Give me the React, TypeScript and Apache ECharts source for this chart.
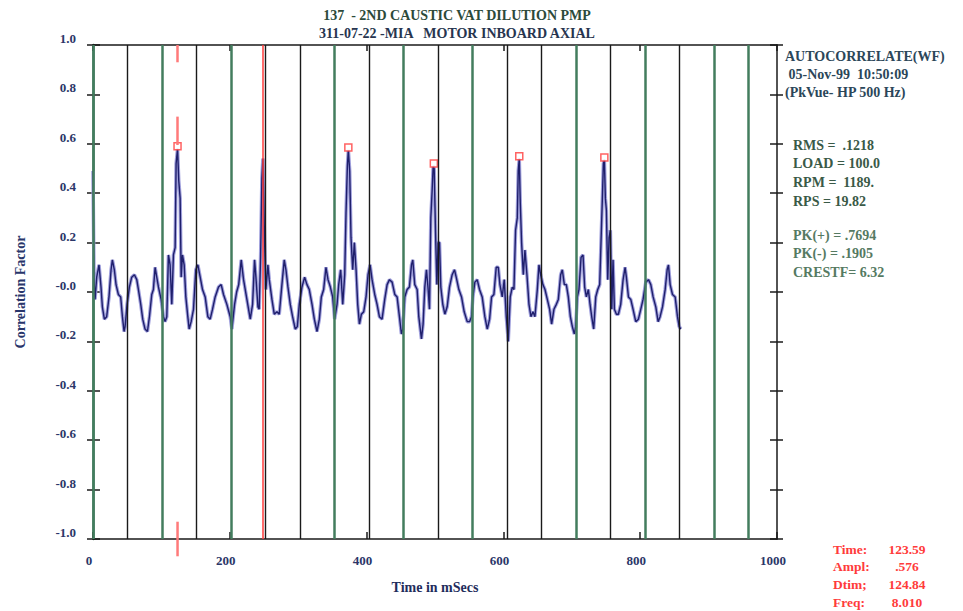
import { useEffect, useRef } from 'react';
import * as echarts from 'echarts';

// --- chart data ---
const titleLines = ['137  - 2ND CAUSTIC VAT DILUTION PMP', '311-07-22 -MIA   MOTOR INBOARD AXIAL'];
const headerLines = ['AUTOCORRELATE(WF)', ' 05-Nov-99  10:50:09', '(PkVue- HP 500 Hz)'];
const statLines = ['RMS =  .1218', 'LOAD = 100.0', 'RPM =  1189.', 'RPS = 19.82'];
const peakLines = ['PK(+) = .7694', 'PK(-) = .1905', 'CRESTF= 6.32'];
const cursorLabels = ['Time:', 'Ampl:', 'Dtim;', 'Freq:'];
const cursorValues = ['123.59', '.576', '124.84', '8.010'];

const cursorTime = 123.59;
const deltaCursorTime = 248.43;

// running speed markers (ms) and their colours: g = green, k = black
const speedMarkMs = [0, 50.5, 100.9, 151.4, 201.8, 252.3, 302.7, 353.2, 403.6, 454.1,
  504.5, 555.0, 605.4, 655.9, 706.3, 756.8, 807.2, 857.7, 908.1, 958.6];
const speedMarkKind = ['g', 'k', 'g', 'k', 'g', 'k', 'k', 'g', 'k', 'g',
  'k', 'g', 'k', 'k', 'g', 'k', 'g', 'k', 'g', 'g'];

// harmonic peak markers
const peakMs = [123.59, 373.3, 498.3, 623.2, 747.6];
const peakAmp = [0.59, 0.585, 0.52, 0.55, 0.545];

// autocorrelation waveform [lag ms, factor]
const waveform: [number, number][] = [
  [0, 0.49], [1.5, 0.05], [3, -0.03], [5.4, 0.06], [8.8, 0.11], [11.7, 0.02], [13.7, -0.06],
  [16.6, -0.11], [20, -0.1], [23.4, -0.02], [26.4, 0.09], [28.3, 0.13], [31.2, 0.09], [33.7, 0.03],
  [37.1, -0.01], [40.5, -0.02], [43, -0.1], [45.4, -0.16], [46.9, -0.14], [49.8, -0.05], [53.2, 0.02],
  [56.6, 0.06], [60.5, 0.07], [64, 0.05], [66.4, 0.01], [69.8, -0.05], [72.7, -0.11], [76.1, -0.15],
  [79.6, -0.16], [82.5, -0.1], [85.9, -0.01], [88.3, 0.01], [90.8, 0.1], [93.2, 0.06], [95.7, 0.02],
  [99.6, -0.03], [103, -0.1], [105.4, -0.12], [107.9, -0.1], [110.3, 0.15], [112.7, 0.11], [115.2, -0.05],
  [117.6, 0.15], [120.1, 0.18], [121.5, 0.52], [123.6, 0.58], [125.4, 0.45], [127.4, 0.38], [128.9, 0.06],
  [130.8, 0.15], [133.3, 0.11], [135.7, -0.02], [138.6, -0.1], [140.6, -0.15], [143.5, -0.12], [146.9, -0.07],
  [150.3, 0.09], [153.3, 0.11], [156.7, 0.06], [160.1, 0.01], [164, -0.02], [167.9, -0.1], [171.3, -0.11],
  [174.7, -0.07], [178.6, -0.02], [183.5, 0.02], [187.4, 0.03], [190.8, -0.01], [195.7, -0.05], [200.6, -0.1],
  [203, -0.15], [207, -0.05], [210, 0], [213, 0.03], [216.7, 0.13], [220.1, 0.05], [225, -0.03],
  [229.9, -0.11], [233.3, -0.05], [236.2, 0.13], [238.2, 0.06], [241.1, -0.06], [243, -0.07], [245, 0.14],
  [246.9, 0.46], [248.4, 0.54], [250.8, 0.21], [252.8, 0.01], [255.7, 0.11], [257.7, 0.05], [261.6, -0.03],
  [265, -0.09], [268.9, -0.08], [272.3, -0.09], [276.2, 0.03], [279.6, 0.13], [282.1, 0.09], [285, 0.02],
  [288.4, -0.05], [291.8, -0.1], [295.7, -0.15], [298.7, -0.14], [301.6, -0.05], [305.5, 0.02], [309.4, 0.06],
  [312.8, 0.03], [316.2, 0.01], [320.2, -0.05], [323.6, -0.11], [327.5, -0.16], [330.9, -0.11], [333.8, -0.02],
  [337.2, 0.01], [340.6, 0.1], [343.6, 0.05], [347, 0.02], [350.4, -0.02], [353.3, -0.11], [356.8, -0.05],
  [359.2, 0.03], [362.1, 0.09], [365.1, -0.05], [368, 0.07], [369.9, 0.32], [371.9, 0.51], [373.3, 0.575],
  [375.3, 0.49], [377.2, 0.22], [379.7, 0.09], [382.1, 0.2], [384.6, 0.09], [387, -0.05], [389.5, -0.13],
  [392.4, -0.09], [395.8, -0.08], [399.2, -0.02], [402.1, 0.07], [405.1, 0.11], [408, 0.05], [411.9, -0.01],
  [415.3, -0.05], [418.7, -0.1], [422.6, -0.11], [426.5, -0.03], [430, 0.03], [433.4, 0.05], [437.3, 0.04],
  [441.2, -0.01], [444.6, -0.02], [448, -0.1], [450.9, -0.17], [452.9, -0.15], [455.8, -0.02], [459.2, 0.01],
  [462.6, 0.02], [465.6, 0.11], [467.5, 0.13], [470.4, 0.03], [473.9, 0.01], [476.3, -0.1], [480.2, -0.19],
  [482.6, -0.13], [485.1, 0.02], [487.5, 0.09], [490, 0.01], [491.9, -0.07], [493.9, 0.3], [495.8, 0.41],
  [497.3, 0.51], [498.8, 0.5], [500.7, 0.25], [502.7, 0.03], [504.6, 0.2], [506.6, 0.2], [508.5, 0.02],
  [511.4, -0.05], [514.4, -0.09], [517.8, -0.06], [521.2, 0.02], [525.1, 0.07], [528.5, 0.09], [531, 0.06],
  [534.9, 0.01], [538.8, -0.02], [542.7, -0.08], [547.1, -0.12], [550.5, -0.12], [553.4, -0.1], [555.4, -0.02],
  [558.3, 0.04], [561.7, 0.05], [565.1, 0.01], [569, -0.02], [572.9, -0.1], [576.4, -0.15], [579.8, -0.11],
  [582.7, -0.02], [586.1, -0.01], [589.5, 0.1], [592.5, 0.1], [594.9, 0.03], [598.3, -0.02], [601.2, 0.05],
  [604.2, -0.1], [607.1, -0.2], [610, -0.02], [613, 0.02], [615.4, 0.01], [617.8, 0.25], [620.3, 0.3],
  [621.7, 0.49], [623.2, 0.54], [624.7, 0.36], [626.6, 0.2], [629.1, 0.07], [631.5, 0.17], [634.4, 0.07],
  [637.4, -0.05], [640.3, -0.1], [643.2, -0.08], [646.1, -0.1], [649.6, 0.01], [652, 0.11], [654.4, 0.07],
  [657.8, 0.03], [660.8, 0.01], [664.2, -0.03], [667.6, -0.07], [670.5, -0.13], [673.9, -0.07], [677.4, -0.05],
  [680.3, -0.03], [683.7, 0.07], [686.1, 0.09], [689.1, 0.03], [692, 0.03], [694.9, -0.02], [697.9, -0.1],
  [700.8, -0.14], [703.7, -0.17], [705.7, -0.14], [708.1, -0.02], [710.5, 0.01], [713.5, 0.14], [716.4, 0.15],
  [718.8, 0.02], [721.3, -0.02], [724.2, 0.01], [726.7, -0.05], [729.1, -0.1], [732, -0.15], [735, -0.02],
  [737.9, 0.01], [740.8, 0.03], [742.8, 0.21], [744.7, 0.38], [746.2, 0.52], [747.6, 0.535], [749.1, 0.38],
  [750.6, 0.33], [752.5, 0.05], [754.5, 0.22], [756.4, 0.25], [758.4, -0.07], [760.3, 0.13], [762.3, -0.07],
  [765.2, -0.09], [768.1, -0.09], [771.5, -0.05], [775, 0.05], [777.9, 0.1], [779.8, 0.06], [782.8, -0.02],
  [786.2, -0.03], [789.6, -0.07], [793.5, -0.12], [797.4, -0.11], [800.8, -0.07], [804.2, -0.03], [808.2, 0.04],
  [812.1, 0.05], [815.5, 0.03], [818.9, -0.02], [822.8, -0.06], [826.2, -0.12], [829.1, -0.1], [832.6, -0.06],
  [836.5, 0.01], [839.4, 0.09], [841.3, 0.11], [843.8, 0.03], [847.2, -0.01], [851.1, -0.02], [854.5, -0.1],
  [857, -0.14], [859.4, -0.15],
];

const FONT = '"Liberation Serif", "DejaVu Serif", serif';
const GREEN = '#437d5e';
const NAVY = '#2b3668';
const RED = '#ff3b3b';

function textEl(text: string, x: number, y: number, fill: string, size: number, align = 'left') {
  return {
    type: 'text',
    x,
    y,
    silent: true,
    style: {
      text,
      fill,
      fontFamily: FONT,
      fontWeight: 'bold',
      fontSize: size,
      textAlign: align,
      textVerticalAlign: 'middle',
    },
  };
}

function App() {
  const chartRef = useRef<HTMLDivElement>(null);

  useEffect(() => {
    document.body.style.margin = '0';
    if (!chartRef.current) return;
    const chart = echarts.init(chartRef.current, null, { renderer: 'svg' });

    const axisText = { color: NAVY, fontFamily: FONT, fontWeight: 'bold' as const, fontSize: 13 };

    // vertical running-speed lines + cursors
    const markData: any[] = speedMarkMs.map((ms, i) => ({
      xAxis: ms,
      lineStyle: speedMarkKind[i] === 'g'
        ? { color: GREEN, width: 2.5, type: 'solid' }
        : { color: '#1a1a1a', width: 1.4, type: 'solid' },
    }));
    markData.push({ xAxis: deltaCursorTime, lineStyle: { color: RED, width: 1.5, type: 'solid' } });
    const dashSegs = [[1.0, 0.93], [0.71, 0.595]];
    dashSegs.forEach(([a, b]) => {
      markData.push([
        { coord: [cursorTime, a], lineStyle: { color: '#ff7a7a', width: 2.5, type: 'solid' } },
        { coord: [cursorTime, b] },
      ]);
    });

    const graphics: any[] = [];
    graphics.push(textEl(titleLines[0], 457, 15, '#2c4a3a', 14, 'center'));
    graphics.push(textEl(titleLines[1], 457, 33, '#27354f', 14, 'center'));
    headerLines.forEach((t, i) => graphics.push(textEl(t, 785, 56 + i * 18, '#2b4659', 14)));
    statLines.forEach((t, i) => graphics.push(textEl(t, 793, 145 + i * 18.7, '#3a5a47', 14)));
    peakLines.forEach((t, i) => graphics.push(textEl(t, 793, 235 + i * 18.5, '#557a62', 14)));
    cursorLabels.forEach((t, i) => graphics.push(textEl(t, 833, 549 + i * 17.8, RED, 13.5)));
    cursorValues.forEach((t, i) => graphics.push(textEl(t, 907, 549 + i * 17.8, RED, 13.5, 'center')));

    const option: any = {
      animation: false,
      backgroundColor: '#ffffff',
      grid: { left: 93, right: 186, top: 45, bottom: 72 },
      graphic: graphics,
      xAxis: [
        {
          type: 'value',
          min: 0,
          max: 1000,
          interval: 200,
          position: 'bottom',
          axisLine: { onZero: false, lineStyle: { color: '#1a1a1a', width: 1.5 } },
          axisTick: { inside: true, length: 7, lineStyle: { color: '#1a1a1a', width: 1.5 } },
          axisLabel: { ...axisText, margin: 15, padding: [0, 8, 0, 0], formatter: (v: number) => String(v) },
          splitLine: { show: false },
          name: 'Time in mSecs',
          nameLocation: 'middle',
          nameGap: 41,
          nameTextStyle: { ...axisText, fontSize: 14, color: '#1f2d5c' },
        },
        {
          type: 'value',
          min: 0,
          max: 1000,
          interval: 200,
          position: 'top',
          axisLine: { onZero: false, lineStyle: { color: '#1a1a1a', width: 1.5 } },
          axisTick: { inside: true, length: 6, lineStyle: { color: '#1a1a1a', width: 1.5 } },
          axisLabel: { show: false },
          splitLine: { show: false },
        },
      ],
      yAxis: [
        {
          type: 'value',
          min: -1,
          max: 1,
          interval: 0.2,
          position: 'left',
          axisLine: { show: true, onZero: false, lineStyle: { color: GREEN, width: 2.5 } },
          axisTick: { show: true, length: 6, lineStyle: { color: '#1a1a1a', width: 1.5 } },
          axisLabel: {
            ...axisText,
            margin: 17,
            verticalAlign: 'bottom',
            formatter: (v: number) => (Math.abs(v) < 1e-9 ? '-0.0' : v.toFixed(1)),
          },
          splitLine: { show: false },
          name: 'Correlation Factor',
          nameLocation: 'middle',
          nameGap: 66,
          nameTextStyle: { ...axisText, fontSize: 14, color: '#28356a' },
        },
        {
          type: 'value',
          min: -1,
          max: 1,
          interval: 0.2,
          position: 'left',
          axisLine: { show: false, onZero: false },
          axisTick: { show: true, inside: true, length: 7, lineStyle: { color: '#1a1a1a', width: 1.5 } },
          axisLabel: { show: false },
          splitLine: { show: false },
        },
        {
          type: 'value',
          min: -1,
          max: 1,
          interval: 0.2,
          position: 'right',
          axisLine: { show: true, onZero: false, lineStyle: { color: '#1a1a1a', width: 1.5 } },
          axisTick: { show: true, length: 6, lineStyle: { color: '#1a1a1a', width: 1.5 } },
          axisLabel: { show: false },
          splitLine: { show: false },
        },
        {
          type: 'value',
          min: -1,
          max: 1,
          interval: 0.2,
          position: 'right',
          axisLine: { show: false, onZero: false },
          axisTick: { show: true, inside: true, length: 7, lineStyle: { color: '#1a1a1a', width: 1.5 } },
          axisLabel: { show: false },
          splitLine: { show: false },
        },
      ],
      series: [
        {
          name: 'markers',
          type: 'line',
          data: [],
          z: 1,
          silent: true,
          markLine: {
            silent: true,
            symbol: 'none',
            animation: false,
            label: { show: false },
            data: markData,
          },
        },
        {
          name: 'envelope',
          type: 'line',
          data: waveform,
          z: 2,
          symbol: 'none',
          silent: true,
          lineStyle: { color: '#a0a0dc', width: 3.5 },
        },
        {
          name: 'autocorr',
          type: 'line',
          data: waveform,
          z: 3,
          symbol: 'none',
          silent: true,
          lineStyle: { color: '#1f1f6c', width: 1.4 },
        },
        {
          name: 'peaks',
          type: 'scatter',
          data: peakMs.map((ms, i) => [ms, peakAmp[i]]),
          z: 4,
          symbol: 'rect',
          symbolSize: 7,
          silent: true,
          itemStyle: { color: '#ffffff', borderColor: RED, borderWidth: 1.5 },
        },
      ],
    };

    chart.setOption(option);

    // cursor tail below the axis (outside the grid, so drawn as a graphic)
    const p1 = chart.convertToPixel({ xAxisIndex: 0, yAxisIndex: 0 }, [cursorTime, -0.93]);
    const p2 = chart.convertToPixel({ xAxisIndex: 0, yAxisIndex: 0 }, [cursorTime, -1.07]);
    if (p1 && p2) {
      chart.setOption({
        graphic: [
          ...graphics,
          {
            type: 'line',
            silent: true,
            z: 10,
            shape: { x1: p1[0], y1: p1[1], x2: p2[0], y2: p2[1] },
            style: { stroke: '#ff7a7a', lineWidth: 2.5 },
          },
        ],
      });
    }

    return () => {
      chart.dispose();
    };
  }, []);

  return <div ref={chartRef} style={{ width: 963, height: 611 }} />;
}

export default App;
